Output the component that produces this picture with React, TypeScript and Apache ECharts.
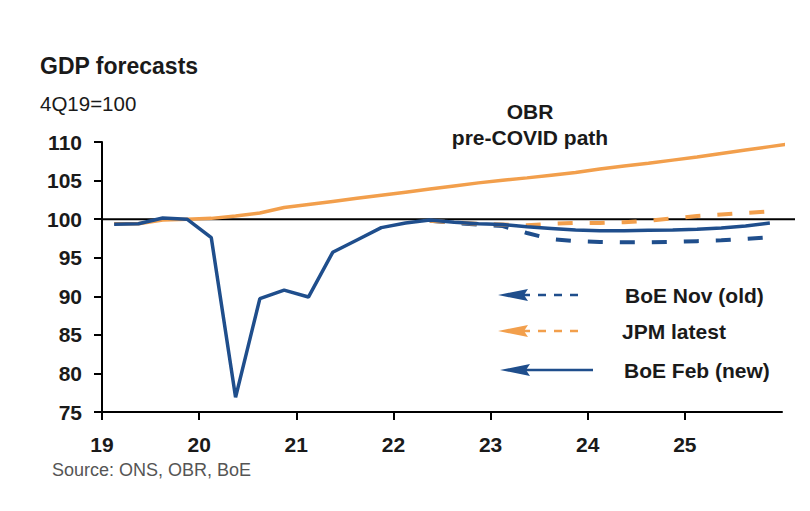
import React, { useEffect, useRef } from "react";
import * as echarts from "echarts";

// Quarterly periods ("YYYY Qn")
const quarters = [
  "2019Q1","2019Q2","2019Q3","2019Q4",
  "2020Q1","2020Q2","2020Q3","2020Q4",
  "2021Q1","2021Q2","2021Q3","2021Q4",
  "2022Q1","2022Q2","2022Q3","2022Q4",
  "2023Q1","2023Q2","2023Q3","2023Q4",
  "2024Q1","2024Q2","2024Q3","2024Q4",
  "2025Q1","2025Q2","2025Q3","2025Q4",
  "2026Q1",
];

// OBR pre-COVID path
const obrPreCovid = [
  99.4, 99.4, 99.9, 100.0,
  100.1, 100.4, 100.8, 101.5,
  101.9, 102.3, 102.7, 103.1,
  103.5, 103.9, 104.3, 104.7,
  105.05, 105.35, 105.7, 106.05,
  106.5, 106.9, 107.25, 107.65,
  108.05, 108.5, 108.95, 109.4,
  109.85,
];

// BoE Feb (new)
const boeFeb = [
  99.35, 99.4, 100.15, 100.0,
  97.6, 76.9, 89.7, 90.8,
  89.9, 95.7, 97.3, 98.9,
  99.5, 99.9, 99.6, 99.4,
  99.3, 99.0, 98.8, 98.6,
  98.5, 98.5, 98.55, 98.6,
  98.7, 98.85, 99.1, 99.5,
  null,
];

// BoE Nov (old)
const boeNov = [
  null, null, null, null,
  null, null, null, null,
  null, null, null, null,
  null, 99.8, 99.5, 99.3,
  99.1, 98.2, 97.4, 97.15,
  97.05, 97.0, 97.0, 97.05,
  97.15, 97.25, 97.45, 97.65,
  null,
];

// JPM latest
const jpmLatest = [
  null, null, null, null,
  null, null, null, null,
  null, null, null, null,
  null, 99.8, 99.6, 99.4,
  99.3, 99.2, 99.4, 99.5,
  99.5, 99.6, 99.8, 100.1,
  100.4, 100.6, 100.8, 101.0,
  null,
];

const xTicks = [2019, 2020, 2021, 2022, 2023, 2024, 2025];
const yTicks = [75, 80, 85, 90, 95, 100, 105, 110];
const baseline = 100;

const BLUE = "#1f4e8c";
const ORANGE = "#f29f4c";
const FONT = "Liberation Sans, Arial, sans-serif";

function quarterToX(q: string): number {
  const year = parseInt(q.slice(0, 4), 10);
  const n = parseInt(q.slice(5), 10);
  return year + (n - 0.5) / 4;
}

function pairs(values: (number | null)[]) {
  return quarters.map((q, i) => [quarterToX(q), values[i]]);
}

export default function App() {
  const ref = useRef<HTMLDivElement>(null);

  useEffect(() => {
    document.body.style.margin = "0";
    if (!ref.current) return;
    const chart = echarts.init(ref.current, null, { renderer: "svg" });

    const legendRow = (y: number, tipX: number, endX: number, color: string, dashed: boolean, label: string, textX: number) => ({
      type: "group",
      children: [
        {
          type: "polygon",
          shape: { points: [[tipX, y], [tipX + 30, y - 6], [tipX + 26, y], [tipX + 30, y + 6]] },
          style: { fill: color },
        },
        {
          type: "line",
          shape: { x1: tipX + 24, y1: y, x2: endX, y2: y },
          style: { stroke: color, lineWidth: 2.5, lineDash: dashed ? [8, 8] : null },
        },
        {
          type: "text",
          style: {
            text: label, x: textX, y, verticalAlign: "middle", align: "left",
            fill: "#1a1a1a", font: `bold 21px ${FONT}`,
          },
        },
      ],
    });

    const graphics: any[] = [
      {
        type: "text",
        style: {
          text: "OBR\npre-COVID path", x: 530, y: 98, align: "center", verticalAlign: "top",
          lineHeight: 26, fill: "#1a1a1a", font: `bold 21px ${FONT}`,
        },
      },
      legendRow(295, 498, 585, BLUE, true, "BoE Nov (old)", 625),
      legendRow(331, 498, 585, ORANGE, true, "JPM latest", 622),
      legendRow(370, 500, 593, BLUE, false, "BoE Feb (new)", 624),
    ];

    chart.setOption({
      animation: false,
      backgroundColor: "#ffffff",
      title: [
        { text: "GDP forecasts", left: 40, top: 54, padding: 0,
          textStyle: { fontFamily: FONT, fontSize: 23, fontWeight: "bold", color: "#1a1a1a" } },
        { text: "4Q19=100", left: 40, top: 93, padding: 0,
          textStyle: { fontFamily: FONT, fontSize: 20.5, fontWeight: "normal", color: "#1a1a1a" } },
        { text: "Source: ONS, OBR, BoE", left: 52, top: 461, padding: 0,
          textStyle: { fontFamily: FONT, fontSize: 18, fontWeight: "normal", color: "#555555" } },
      ],
      grid: { left: 102, right: 28, top: 142, bottom: 99, containLabel: false },
      xAxis: {
        type: "value",
        min: 2019,
        max: 2026,
        interval: 1,
        splitLine: { show: false },
        axisLine: { show: true, lineStyle: { color: "#000", width: 2 } },
        axisTick: { show: true, length: 8, inside: false, customValues: xTicks, lineStyle: { color: "#000", width: 2 } },
        axisLabel: {
          customValues: xTicks,
          margin: 22,
          formatter: (v: number) => String(v - 2000),
          fontFamily: FONT, fontSize: 21, fontWeight: "bold", color: "#1a1a1a",
        },
      },
      yAxis: {
        type: "value",
        min: 75,
        max: 110,
        interval: 5,
        splitLine: { show: false },
        axisLine: { show: true, lineStyle: { color: "#000", width: 2 } },
        axisTick: { show: true, length: 8, inside: false, lineStyle: { color: "#000", width: 2 } },
        axisLabel: {
          margin: 20,
          formatter: (v: number) => (yTicks.includes(v) ? String(v) : ""),
          fontFamily: FONT, fontSize: 21, fontWeight: "bold", color: "#1a1a1a",
        },
      },
      series: [
        {
          name: "OBR pre-COVID path",
          type: "line",
          data: pairs(obrPreCovid),
          showSymbol: false,
          clip: true,
          lineStyle: { color: ORANGE, width: 3.5 },
          itemStyle: { color: ORANGE },
          z: 2,
        },
        {
          name: "BoE Nov (old)",
          type: "line",
          data: pairs(boeNov),
          showSymbol: false,
          lineStyle: { color: BLUE, width: 4, type: [15, 17] },
          itemStyle: { color: BLUE },
          z: 3,
        },
        {
          name: "JPM latest",
          type: "line",
          data: pairs(jpmLatest),
          showSymbol: false,
          lineStyle: { color: ORANGE, width: 4, type: [15, 17] },
          itemStyle: { color: ORANGE },
          z: 4,
        },
        {
          name: "BoE Feb (new)",
          type: "line",
          data: pairs(boeFeb),
          showSymbol: false,
          lineStyle: { color: BLUE, width: 3.5 },
          itemStyle: { color: BLUE },
          z: 5,
        },
      ],
      graphic: graphics,
    });

    // Baseline at 100, drawn a little past the end of the x axis as in the original
    const y100 = chart.convertToPixel({ yAxisIndex: 0 }, baseline) as number;
    const xStart = chart.convertToPixel({ xAxisIndex: 0 }, 2019) as number;
    const xEnd = chart.convertToPixel({ xAxisIndex: 0 }, 2026) as number;
    chart.setOption({
      graphic: [
        ...graphics,
        {
          type: "line",
          z: 1,
          zlevel: 0,
          shape: { x1: xStart, y1: y100, x2: xEnd + 13, y2: y100 },
          style: { stroke: "#000", lineWidth: 2 },
        },
      ],
    });

    return () => chart.dispose();
  }, []);

  return <div ref={ref} style={{ width: 810, height: 511 }} />;
}
